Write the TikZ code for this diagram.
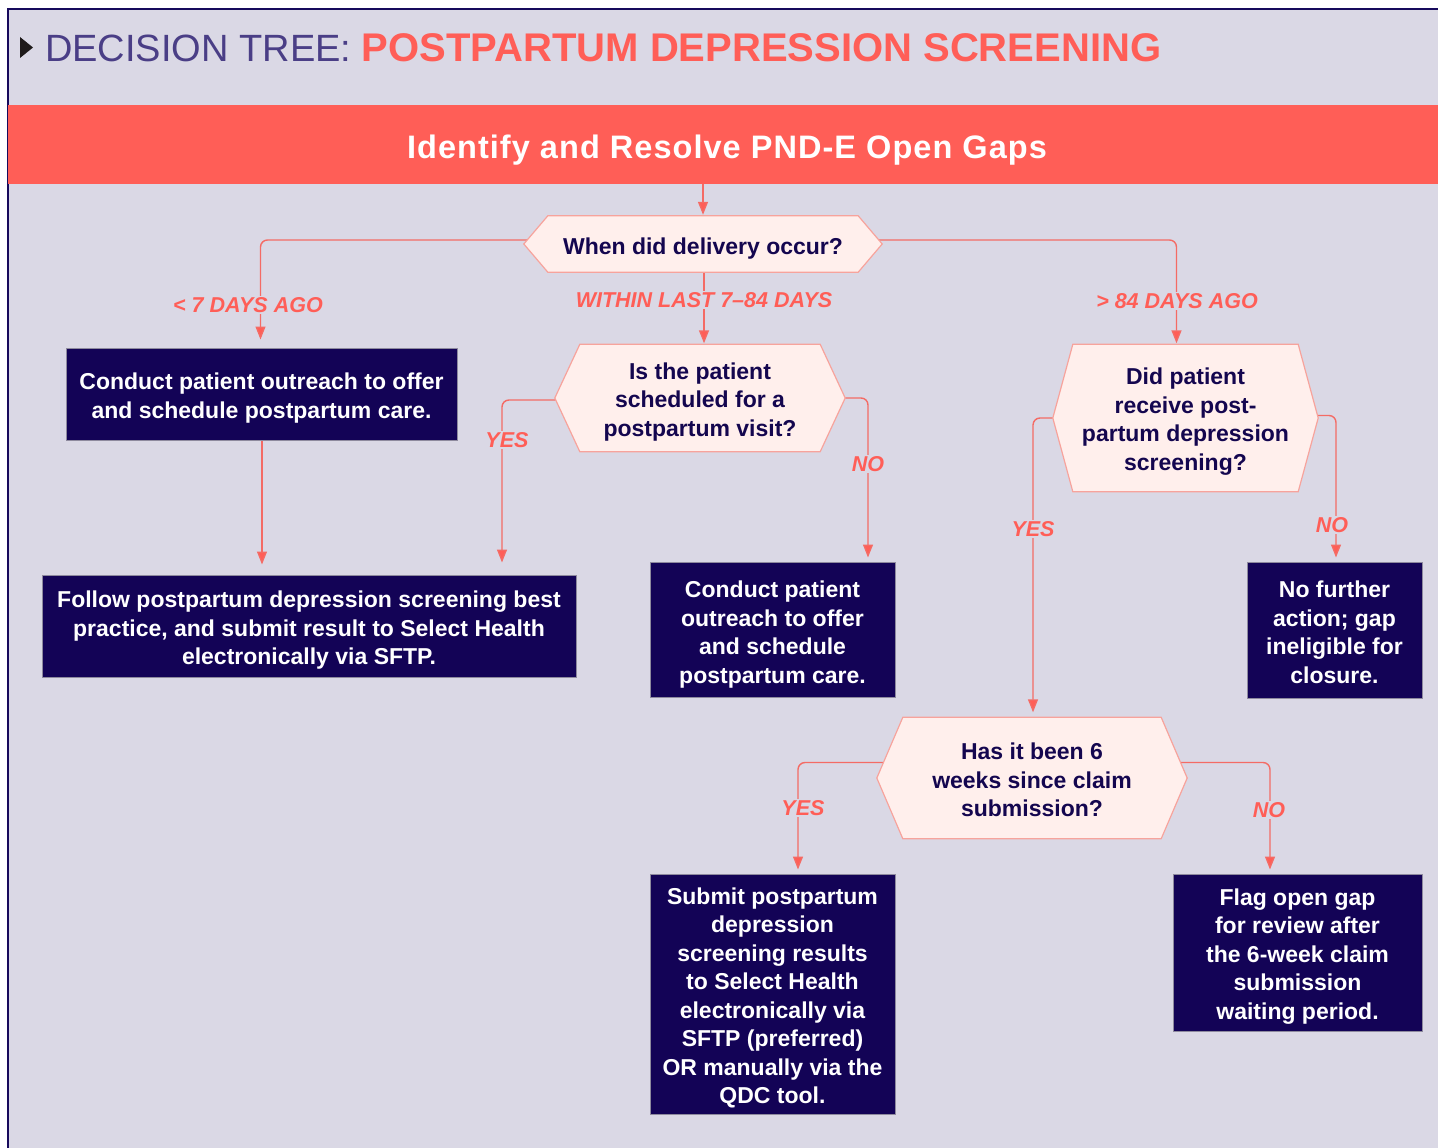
\documentclass[tikz,border=0pt]{standalone}
\usepackage{fontspec}
\setmainfont{Liberation Sans}
\usetikzlibrary{arrows.meta}
\definecolor{bg}{HTML}{DAD8E5}
\definecolor{framec}{HTML}{170A5C}
\definecolor{coral}{HTML}{FF5E57}
\definecolor{linec}{HTML}{F46B65}
\definecolor{navyfill}{HTML}{130356}
\definecolor{boxedge}{HTML}{8E8A9E}
\definecolor{hexfill}{HTML}{FFEFEC}
\definecolor{hexedge}{HTML}{F7A39C}
\definecolor{navytext}{HTML}{14064F}
\definecolor{titlec}{HTML}{4A3E86}
\definecolor{tri}{HTML}{1E1A1A}
\pgfdeclarelayer{back}
\pgfdeclarelayer{lines}
\pgfdeclarelayer{shapes}
\pgfsetlayers{back,lines,shapes,main}
\tikzset{
  conn/.style={draw=linec, line width=1.4pt, rounded corners=7pt, -{Triangle[length=13pt,width=10pt,fill=coral]}},
  lbl/.style={fill=bg, inner sep=1.5pt, text=coral, font=\fontsize{21.5}{24}\selectfont\bfseries\itshape},
  navybox/.style={fill=navyfill, draw=boxedge, line width=1pt, inner sep=0pt},
  boxtext/.style={text=white, align=center, font=\fontsize{23}{28.5}\selectfont\bfseries, inner sep=0pt},
  hexnode/.style={inner sep=0pt},
  hextext/.style={align=center, text=navytext, font=\fontsize{23}{28.5}\selectfont\bfseries, inner sep=0pt},
  hexshape/.style={fill=hexfill, draw=hexedge, line width=1.2pt},
}
\newcommand\hexdraw[2]{%
  \begin{pgfonlayer}{shapes}
  \path[hexshape] ([xshift=#2]#1.north west) -- ([xshift=-#2]#1.north east) -- (#1.east)
    -- ([xshift=-#2]#1.south east) -- ([xshift=#2]#1.south west) -- (#1.west) -- cycle;
  \end{pgfonlayer}}
\begin{document}
\begin{tikzpicture}[x=1pt,y=-1pt]
\useasboundingbox (0,0) rectangle (1438,1148);
\begin{pgfonlayer}{back}
  \fill[white] (0,0) rectangle (1438,1148);
  \draw[framec, line width=2pt, fill=bg] (8,9) rectangle (1460,1170);
  \fill[tri] (20,37) -- (20,58) -- (33,47.5) -- cycle;
\end{pgfonlayer}
% title
\node[anchor=base west, inner sep=0pt, text=titlec, font=\fontsize{38}{44}\selectfont] (title) at (45,62)
  {DECISION TREE: {\color{coral}\fontsize{40}{44}\selectfont\bfseries POSTPARTUM DEPRESSION SCREENING}};
% banner
\node[fill=coral, minimum width=1430pt, minimum height=79pt, inner sep=0pt] (banner) at (723,144.5) {};
\node[text=white, inner sep=0pt, font=\fontsize{32.5}{36}\selectfont\bfseries\addfontfeatures{LetterSpace=3.2}] (bannertext) at (727,150) {Identify and Resolve PND-E Open Gaps};
% hexagons
\node[hexnode, minimum width=358pt, minimum height=56pt] (h1) at (703,244) {};
\hexdraw{h1}{24pt}
\node[hextext] (h1t) at ([yshift=-5pt]h1.center) {When did delivery occur?};
\node[hexnode, minimum width=290pt, minimum height=107pt] (h2) at (700,398) {};
\hexdraw{h2}{25pt}
\node[hextext] (h2t) at ([yshift=-4pt]h2.center) {Is the patient\\scheduled for a\\postpartum visit?};
\node[hexnode, minimum width=265pt, minimum height=147pt] (h3) at (1185.5,418) {};
\hexdraw{h3}{20pt}
\node[hextext] (h3t) at ([yshift=-3.5pt]h3.center) {Did patient\\receive post-\\partum depression\\screening?};
\node[hexnode, minimum width=310pt, minimum height=121pt] (h4) at (1032,778) {};
\hexdraw{h4}{26pt}
\node[hextext] (h4t) at ([yshift=-2pt]h4.center) {Has it been 6\\weeks since claim\\submission?};
% boxes
\node[navybox, minimum width=391pt, minimum height=92pt] (b1) at (261.5,394) {};
\node[boxtext] (b1t) at ([yshift=-4pt]b1.center) {Conduct patient outreach to offer\\and schedule postpartum care.};
\node[navybox, minimum width=534pt, minimum height=102pt] (b2) at (309,626) {};
\node[boxtext] (b2t) at ([yshift=-4.5pt]b2.center) {Follow postpartum depression screening best\\practice, and submit result to Select Health\\electronically via SFTP.};
\node[navybox, minimum width=245pt, minimum height=135pt] (b3) at (772.5,629.5) {};
\node[boxtext] (b3t) at ([yshift=-5pt]b3.center) {Conduct patient\\outreach to offer\\and schedule\\postpartum care.};
\node[navybox, minimum width=175pt, minimum height=136pt] (b4) at (1334.5,630) {};
\node[boxtext] (b4t) at ([yshift=-2.5pt]b4.center) {No further\\action; gap\\ineligible for\\closure.};
\node[navybox, minimum width=245pt, minimum height=240pt] (b5) at (772.5,994) {};
\node[boxtext] (b5t) at ([yshift=-4pt]b5.center) {Submit postpartum\\depression\\screening results\\to Select Health\\electronically via\\SFTP (preferred)\\OR manually via the\\QDC tool.};
\node[navybox, minimum width=249pt, minimum height=157pt] (b6) at (1297.5,952.5) {};
\node[boxtext] (b6t) at ([yshift=-4pt]b6.center) {Flag open gap\\for review after\\the 6-week claim\\submission\\waiting period.};
% connectors
\begin{pgfonlayer}{lines}
  \draw[conn, shorten >=1pt] (h1.north |- banner.south) -- (h1.north);
  \draw[conn, shorten >=8pt] ([shift={(14pt,4pt)}]h1.west) -| ([xshift=-1pt]b1.north);
  \draw[conn, shorten >=1pt] ([shift={(-14pt,4pt)}]h1.east) -| ([xshift=-9pt]h3.north);
  \draw[conn, shorten >=1pt] ([xshift=1pt]h1.south) -- ([xshift=1pt]h1.south |- h2.north);
  \draw[conn, shorten >=10pt] ([xshift=0.5pt]b1.south) -- ([xshift=0.5pt]b1.south |- b2.north);
  \draw[conn, shorten >=12pt] ([shift={(14pt,-2pt)}]h2.west) -| ([xshift=193pt]b2.north);
  \draw[conn, shorten >=4pt] ([shift={(-14pt,0pt)}]h2.east) -| ([xshift=95.5pt]b3.north);
  \draw[conn, shorten >=5pt] ([shift={(14pt,0pt)}]h3.west) -| ([xshift=1pt]h4.north);
  \draw[conn, shorten >=4pt] ([shift={(-14pt,2.5pt)}]h3.east) -| ([xshift=1.5pt]b4.north);
  \draw[conn, shorten >=4pt] ([shift={(16pt,15.5pt)}]h4.west) -| ([xshift=25.5pt]b5.north);
  \draw[conn, shorten >=4pt] ([shift={(-16pt,15.5pt)}]h4.east) -| ([xshift=-27.5pt]b6.north);
\end{pgfonlayer}
% labels
\node[lbl] (l1) at (248,305) {< 7 DAYS AGO};
\node[lbl] (l2) at (704,300) {WITHIN LAST 7–84 DAYS};
\node[lbl] (l3) at (1177,301) {> 84 DAYS AGO};
\node[lbl] (l4) at (507,440) {YES};
\node[lbl] (l5) at (868,464) {NO};
\node[lbl] (l6) at (1033,529) {YES};
\node[lbl] (l7) at (1332,525) {NO};
\node[lbl] (l8) at (803,808) {YES};
\node[lbl] (l9) at (1269,810) {NO};
\end{tikzpicture}
\end{document}
